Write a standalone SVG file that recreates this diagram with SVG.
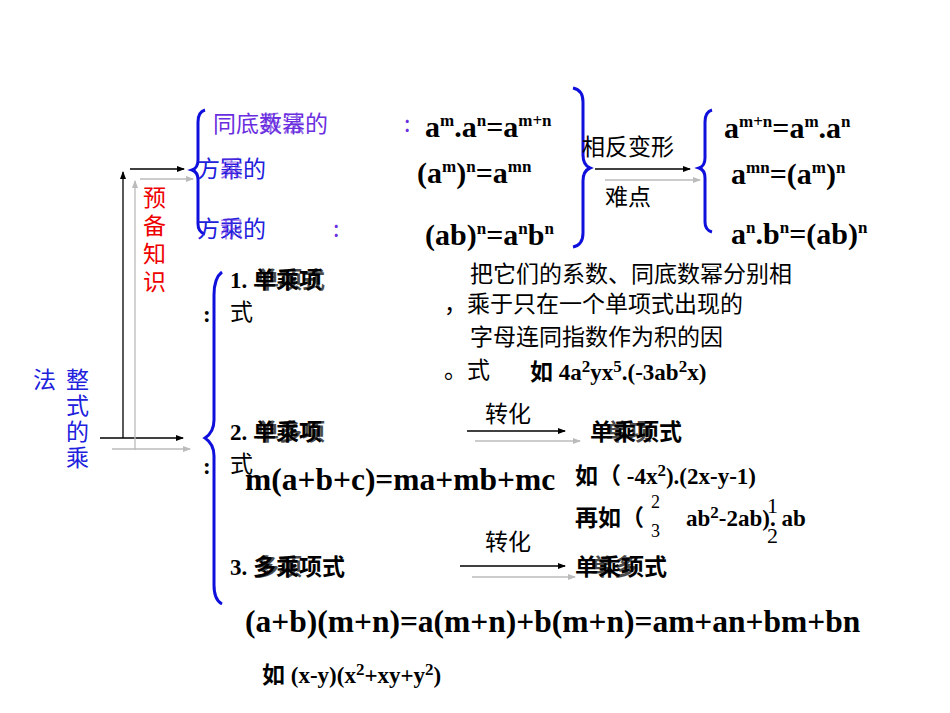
<svg xmlns="http://www.w3.org/2000/svg" width="950" height="713" viewBox="0 0 950 713">
<defs>
<marker id="ab" markerWidth="8" markerHeight="8" refX="7" refY="4" orient="auto" markerUnits="userSpaceOnUse"><path d="M0,1 L8,4 L0,7 Z" fill="#000"/></marker>
<marker id="ag" markerWidth="8" markerHeight="8" refX="7" refY="4" orient="auto" markerUnits="userSpaceOnUse"><path d="M0,1 L8,4 L0,7 Z" fill="#bbb"/></marker>
</defs>
<style>
.cn{font-family:"Noto Sans CJK SC","Liberation Sans",sans-serif;font-size:23px}
.cb{font-family:"Liberation Serif","Noto Sans CJK SC",serif;font-size:23px;font-weight:bold}
.m{font-family:"Liberation Serif",serif;font-size:30px;font-weight:bold}
.mb{font-family:"Liberation Serif",serif;font-size:31.5px;font-weight:bold}
.s{font-size:17px}
.blk{stroke:#000;stroke-width:1.3;fill:none}
.gry{stroke:#bbb;stroke-width:1.3;fill:none}
.br{stroke:#1010dd;stroke-width:3;fill:none}
.pu{fill:#6a2ee0}.bl{fill:#2020dd}.rd{fill:#ee0000}
</style>
<rect width="950" height="713" fill="#fff"/>
<g id="connectors">
<path class="blk" d="M100,438 H183" marker-end="url(#ab)"/>
<path class="gry" d="M112,449 H190" marker-end="url(#ag)"/>
<path class="blk" d="M123,438 V172" marker-end="url(#ab)"/>
<path class="blk" d="M130,169 H184" marker-end="url(#ab)"/>
<path class="gry" d="M135,450 V181" marker-end="url(#ag)"/>
<path class="gry" d="M140,179 H193" marker-end="url(#ag)"/>
<path class="blk" d="M595,169 H690" marker-end="url(#ab)"/>
<path class="gry" d="M605,180 H700" marker-end="url(#ag)"/>
<path class="blk" d="M467,431 H565" marker-end="url(#ab)"/>
<path class="gry" d="M475,441 H580" marker-end="url(#ag)"/>
<path class="blk" d="M460,566 H565" marker-end="url(#ab)"/>
<path class="gry" d="M472,577 H575" marker-end="url(#ag)"/>
</g>
<g id="braces">
<path class="br" d="M205,110 Q198,112 198,122 V160 Q198,168 192,170 Q198,172 198,180 V224 Q198,232 205,234"/>
<path class="br" d="M573,88 Q583,90 583,102 V155 Q583,165 590,168 Q583,171 583,181 V233 Q583,245 573,247"/>
<path class="br" d="M712,110 Q705,112 705,122 V158 Q705,166 699,168 Q705,170 705,178 V222 Q705,230 712,232"/>
<path class="br" d="M222,272 Q214,278 214,295 V420 Q214,432 205,438 Q214,444 214,456 V585 Q214,600 222,604"/>
</g>
<g id="root">
<text class="cn bl" x="33" y="388">法</text>
<text class="cn bl" x="66" y="388">整</text>
<text class="cn bl" x="66" y="414">式</text>
<text class="cn bl" x="66" y="440">的</text>
<text class="cn bl" x="66" y="466">乘</text>
</g>
<g id="prep">
<text class="cn rd" x="143" y="206">预</text>
<text class="cn rd" x="143" y="234">备</text>
<text class="cn rd" x="143" y="262">知</text>
<text class="cn rd" x="143" y="290">识</text>
</g>
<g id="rules">
<text class="cn pu" x="213" y="132">同底数幂的</text>
<text class="cn pu" x="259" y="132" opacity="0.7">乘法</text>
<text class="cn pu" x="404" y="132">:</text>
<text class="cn bl" x="197" y="177">方幂的</text>
<text class="cn pu" x="220" y="177" opacity="0.6">乘</text>
<text class="cn bl" x="197" y="237">方乘的</text>
<text class="cn pu" x="220" y="237" opacity="0.6">积</text>
<text class="cn pu" x="333" y="237">:</text>
<text class="m" x="425" y="137">a<tspan class="s" dy="-11">m</tspan><tspan dy="11">.a</tspan><tspan class="s" dy="-11">n</tspan><tspan dy="11">=a</tspan><tspan class="s" dy="-11">m+n</tspan></text>
<text class="m" x="417" y="183">(a<tspan class="s" dy="-11">m</tspan><tspan dy="11">)</tspan><tspan class="s" dy="-11">n</tspan><tspan dy="11">=a</tspan><tspan class="s" dy="-11">mn</tspan></text>
<text class="m" x="425" y="245">(ab)<tspan class="s" dy="-11">n</tspan><tspan dy="11">=a</tspan><tspan class="s" dy="-11">n</tspan><tspan dy="11">b</tspan><tspan class="s" dy="-11">n</tspan></text>
</g>
<g id="reverse">
<text class="cn" x="582" y="155">相反变形</text>
<text class="cn" x="605" y="205">难点</text>
<text class="m" x="724" y="138">a<tspan class="s" dy="-11">m+n</tspan><tspan dy="11">=a</tspan><tspan class="s" dy="-11">m</tspan><tspan dy="11">.a</tspan><tspan class="s" dy="-11">n</tspan></text>
<text class="m" x="731" y="184">a<tspan class="s" dy="-11">mn</tspan><tspan dy="11">=(a</tspan><tspan class="s" dy="-11">m</tspan><tspan dy="11">)</tspan><tspan class="s" dy="-11">n</tspan></text>
<text class="m" x="731" y="244">a<tspan class="s" dy="-11">n</tspan><tspan dy="11">.b</tspan><tspan class="s" dy="-11">n</tspan><tspan dy="11">=(ab)</tspan><tspan class="s" dy="-11">n</tspan></text>
</g>
<g id="item1">
<text class="cb" x="230" y="288">1. 单乘项</text>
<text class="cb" x="256" y="288" opacity="0.7">单项式</text>
<text class="cn" x="230" y="320">式</text>
<text class="cb" x="203" y="322">:</text>
<text class="cn" x="470" y="282">把它们的系数、同底数幂分别相</text>
<text class="cn" x="444" y="312">，乘于只在一个单项式出现的</text>
<text class="cn" x="470" y="345">字母连同指数作为积的因</text>
<text class="cn" x="444" y="378">。式</text>
<text class="cb" x="530" y="380">如 4a<tspan class="s" dy="-8">2</tspan><tspan dy="8">yx</tspan><tspan class="s" dy="-8">5</tspan><tspan dy="8">.(-3ab</tspan><tspan class="s" dy="-8">2</tspan><tspan dy="8">x)</tspan></text>
</g>
<g id="item2">
<text class="cb" x="230" y="440">2. 单乘项</text>
<text class="cb" x="256" y="440" opacity="0.7">单多项</text>
<text class="cn" x="230" y="472">式</text>
<text class="cb" x="203" y="474">:</text>
<text class="cn" x="485" y="422">转化</text>
<text class="cb" x="590" y="440">单乘项式</text>
<text class="cb" x="606" y="440" opacity="0.7">单项</text>
<text class="mb" x="245" y="490">m(a+b+c)=ma+mb+mc</text>
<text class="cb" x="575" y="484">如（ -4x<tspan class="s" dy="-8">2</tspan><tspan dy="8">).(2x-y-1)</tspan></text>
<text class="cb" x="575" y="526">再如（</text>
<text x="651" y="508" style="font-size:18px;font-family:'Liberation Serif',serif">2</text>
<text x="651" y="537" style="font-size:18px;font-family:'Liberation Serif',serif">3</text>
<text class="cb" x="686" y="526">ab<tspan class="s" dy="-8">2</tspan><tspan dy="8">-2ab).   ab</tspan></text>
<text x="767" y="513" style="font-size:22px;font-family:'Liberation Serif',serif">1</text>
<text x="767" y="543" style="font-size:22px;font-family:'Liberation Serif',serif">2</text>
</g>
<g id="item3">
<text class="cn" x="485" y="550">转化</text>
<text class="cb" x="230" y="575">3. 多乘项式</text>
<text class="cb" x="256" y="575" opacity="0.7">多项</text>
<text class="cb" x="575" y="575">单乘项式</text>
<text class="cb" x="591" y="575" opacity="0.7">单多</text>
<text class="mb" x="245" y="632">(a+b)(m+n)=a(m+n)+b(m+n)=am+an+bm+bn</text>
<text class="cb" x="262" y="683">如 (x-y)(x<tspan class="s" dy="-8">2</tspan><tspan dy="8">+xy+y</tspan><tspan class="s" dy="-8">2</tspan><tspan dy="8">)</tspan></text>
</g>
</svg>
